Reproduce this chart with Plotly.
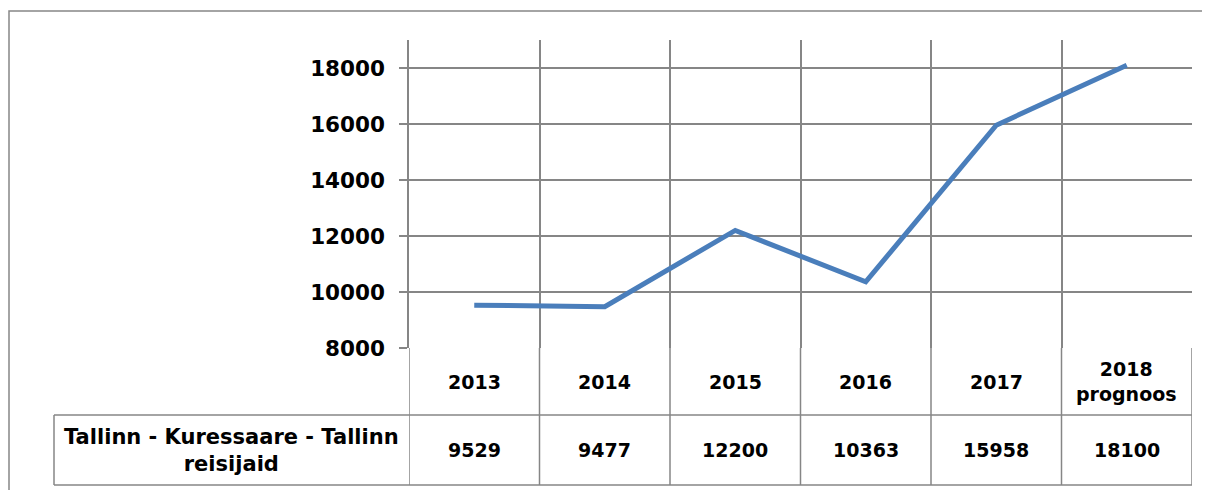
import plotly.graph_objects as go

# data
years = ['2013', '2014', '2015', '2016', '2017', '2018<br>prognoos']
passengers = [9529, 9477, 12200, 10363, 15958, 18100]
row_label = 'Tallinn - Kuressaare - Tallinn<br>reisijaid'
y_ticks = [8000, 10000, 12000, 14000, 16000, 18000]

# the page body adds an 8px margin, so work in screen pixels minus 8
OFF = 8
W, H = 1210 - OFF, 490 - OFF
L, T = 409 - OFF, 40 - OFF
R, B = W - (1192 - OFF), H - (348 - OFF)
pw, ph = W - L - R, H - T - B

def px_x(p):  # screen pixel -> paper x
    return (p - OFF - L) / pw

def px_y(p):  # screen pixel -> paper y
    return (H - B - (p - OFF)) / ph

grid = '#868686'
fnt = dict(family='DejaVu Sans', size=19, color='black', weight='bold')

idx = list(range(len(years)))

fig = go.Figure()
fig.add_trace(go.Scatter(x=idx, y=passengers, mode='lines',
                         line=dict(color='#4a7ebb', width=5), hoverinfo='skip'))

shapes = []
# outer chart border: only left and top edges are inside the picture
shapes.append(dict(type='path', xref='paper', yref='paper',
                   path='M {0},{1} L {0},{2} L {3},{2}'.format(
                       px_x(9), px_y(500), px_y(11), px_x(1215)),
                   line=dict(color=grid, width=1.5)))
# data table lines
row_top, row_mid, row_bot = 348, 415, 485
for i in range(len(years) + 1):
    shapes.append(dict(type='line', xref='x', yref='paper',
                       x0=i - 0.5, x1=i - 0.5, y0=px_y(row_top), y1=px_y(row_bot),
                       line=dict(color=grid, width=1.5)))
for yy in (row_mid, row_bot):
    shapes.append(dict(type='line', xref='paper', yref='paper',
                       x0=px_x(54), x1=1, y0=px_y(yy), y1=px_y(yy),
                       line=dict(color=grid, width=1.5)))
shapes.append(dict(type='line', xref='paper', yref='paper',
                   x0=px_x(54), x1=px_x(54), y0=px_y(row_mid), y1=px_y(row_bot),
                   line=dict(color=grid, width=1.5)))

annotations = []
for i, (yr, v) in enumerate(zip(years, passengers)):
    annotations.append(dict(x=i, y=px_y((row_top + row_mid) / 2), xref='x', yref='paper',
                            text=yr, showarrow=False, font=fnt,
                            xanchor='center', yanchor='middle'))
    annotations.append(dict(x=i, y=px_y((row_mid + row_bot) / 2), xref='x', yref='paper',
                            text=str(v), showarrow=False, font=fnt,
                            xanchor='center', yanchor='middle'))
annotations.append(dict(x=px_x((54 + 409) / 2), y=px_y((row_mid + row_bot) / 2),
                        xref='paper', yref='paper', text=row_label, showarrow=False,
                        font=dict(fnt, size=21), xanchor='center', yanchor='middle'))

fig.update_layout(
    width=W, height=H,
    margin=dict(l=L, r=R, t=T, b=B),
    paper_bgcolor='white', plot_bgcolor='white',
    showlegend=False,
    font=fnt,
    shapes=shapes,
    annotations=annotations,
    xaxis=dict(range=[-0.5, len(years) - 0.5], tickvals=[i - 0.5 for i in range(len(years) + 1)],
               showticklabels=False, showgrid=True, gridcolor=grid, gridwidth=1.5,
               zeroline=False, showline=False, ticks=''),
    yaxis=dict(range=[8000, 19000], tickvals=y_ticks, ticktext=[str(t) for t in y_ticks],
               showgrid=True, gridcolor=grid, gridwidth=1.5, zeroline=False,
               showline=True, linecolor=grid, linewidth=1.5,
               ticks='outside', ticklen=8, tickcolor=grid, tickwidth=1.5,
               ticklabelstandoff=10, tickfont=dict(fnt, size=21.5)),
)

# no scrollbars in the page
fig.write_html('out.html', config={'displayModeBar': False},
               post_script="document.body.style.overflow='hidden';")
